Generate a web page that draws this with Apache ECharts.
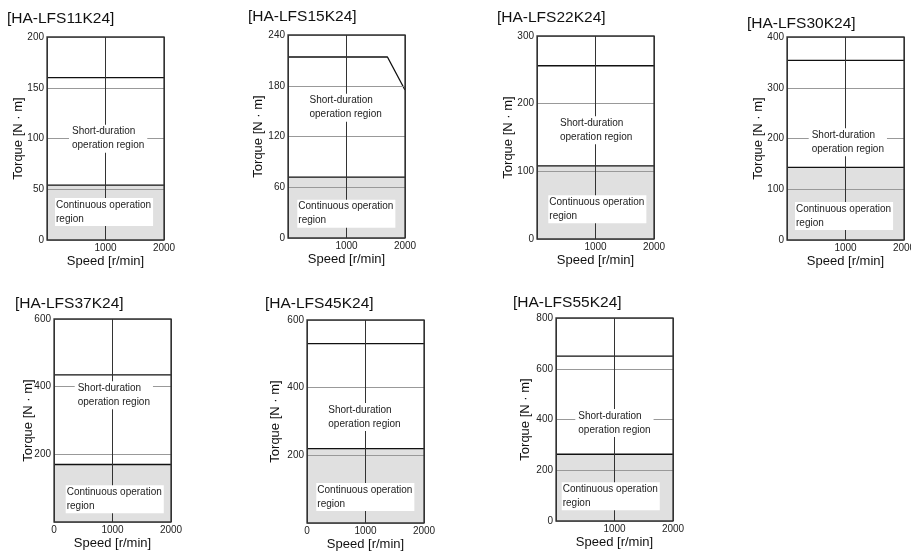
<!DOCTYPE html>
<html>
<head>
<meta charset="utf-8">
<script src="https://cdn.jsdelivr.net/npm/echarts@6/dist/echarts.min.js"></script>
<style>
  html, body { margin: 0; padding: 0; background: #fff; }
  #chart { width: 911px; height: 552px; }
</style>
</head>
<body>
<div id="chart"></div>
<script>
// Torque–speed characteristics of the HA-LFS motor series
const models = ['[HA-LFS11K24]', '[HA-LFS15K24]', '[HA-LFS22K24]', '[HA-LFS30K24]',
                '[HA-LFS37K24]', '[HA-LFS45K24]', '[HA-LFS55K24]'];
const torqueMax  = [200, 240, 300, 400, 600, 600, 800];
const torqueStep = [50, 60, 100, 100, 200, 200, 200];
const speedMax = 2000;
const speedStep = 1000;

// Continuous operation limit (flat over the speed range)
const contSpeed  = [0, 2000];
const contTorque = [54, 72, 108, 143, 170, 220, 263];

// Short-duration operation limit
const shortSpeed  = [[0, 2000], [0, 1700, 2000], [0, 2000], [0, 2000], [0, 2000], [0, 2000], [0, 2000]];
const shortTorque = [[160, 160], [214, 214, 175], [256, 256], [354, 354], [435, 435], [530, 530], [650, 650]];

const shortLabel = 'Short-duration\noperation region';
const contLabel  = 'Continuous operation\nregion';
const xName = 'Speed [r/min]';
const yName = 'Torque [N · m]';

// ---- layout (pixels) ----
const gridPos = [
  [47, 37], [288, 35], [537, 36], [787, 37],
  [54, 319], [307, 320], [556, 318]
];
const gridW = 117, gridH = 203;
const titlePos = [[7, 10.5], [248, 8.5], [497, 9.5], [747, 16], [15, 296], [265, 296], [513, 294.5]];
const yNameGap = [22.5, 23, 22, 22.5, 19.5, 25, 24.5];
const zeroOnX = [false, false, false, false, true, true, false];
const shortBox = [[69, 124.7], [306.5, 93.7], [557, 116.3], [808.7, 128.3], [74.7, 381.3], [325.3, 403], [575.3, 409]];
const contBox  = [[55, 198], [297.3, 199.7], [548.3, 195.3], [795, 202], [65.7, 485.3], [316.3, 483], [561.7, 482.3]];

const FONT = '"Liberation Sans", Arial, sans-serif';

const chart = echarts.init(document.getElementById('chart'), null, { renderer: 'canvas' });

const grids = [], xAxes = [], yAxes = [], series = [], titles = [], graphics = [];

models.forEach((name, i) => {
  grids.push({
    left: gridPos[i][0], top: gridPos[i][1], width: gridW, height: gridH,
    containLabel: false, outerBoundsMode: 'none',
    show: true, z: 4, borderColor: '#333', borderWidth: 1.3, backgroundColor: 'transparent'
  });
  titles.push({
    text: name, left: titlePos[i][0], top: titlePos[i][1], padding: 0,
    textStyle: { fontFamily: FONT, fontSize: 15.5, fontWeight: 'normal', color: '#111' }
  });
  xAxes.push({
    gridIndex: i, type: 'value', min: 0, max: speedMax, interval: speedStep, z: 3,
    name: xName, nameLocation: 'middle', nameGap: 15, nameMoveOverlap: false,
    nameTextStyle: { fontFamily: FONT, fontSize: 13, color: '#111' },
    axisLine: { show: false }, axisTick: { show: false },
    axisLabel: {
      margin: 3, fontFamily: FONT, fontSize: 10, color: '#222', hideOverlap: false,
      formatter: v => (v === 0 && !zeroOnX[i]) ? '' : String(v)
    },
    splitLine: { show: true, lineStyle: { color: '#333', width: 1 } }
  });
  yAxes.push({
    gridIndex: i, type: 'value', min: 0, max: torqueMax[i], interval: torqueStep[i], z: 3,
    name: yName, nameLocation: 'middle', nameGap: yNameGap[i], nameMoveOverlap: false,
    nameTextStyle: { fontFamily: FONT, fontSize: 13, color: '#111' },
    axisLine: { show: false }, axisTick: { show: false },
    axisLabel: {
      margin: 3, fontFamily: FONT, fontSize: 10, color: '#222',
      formatter: v => (v === 0 && zeroOnX[i]) ? '' : String(v)
    },
    splitLine: { show: true, lineStyle: { color: '#999', width: 1 } }
  });
  series.push({
    type: 'line', xAxisIndex: i, yAxisIndex: i, z: 1, symbol: 'none', silent: true,
    data: contSpeed.map(s => [s, contTorque[i]]),
    lineStyle: { color: '#111', width: 1.3 },
    areaStyle: { color: '#e0e0e0', opacity: 1 }
  });
  series.push({
    type: 'line', xAxisIndex: i, yAxisIndex: i, z: 1, symbol: 'none', silent: true,
    data: shortSpeed[i].map((s, k) => [s, shortTorque[i][k]]),
    lineStyle: { color: '#111', width: 1.3 }
  });
  graphics.push({
    type: 'text', x: shortBox[i][0], y: shortBox[i][1], z: 10, silent: true,
    style: {
      text: shortLabel, fontFamily: FONT, fontSize: 10, fill: '#222',
      backgroundColor: '#fff', padding: [0, 3, 0, 3], lineHeight: 14,
      align: 'left', verticalAlign: 'top'
    }
  });
  graphics.push({
    type: 'text', x: contBox[i][0], y: contBox[i][1], z: 10, silent: true,
    style: {
      text: contLabel, fontFamily: FONT, fontSize: 10, fill: '#222',
      backgroundColor: '#fff', padding: [0, 2, 0, 1], lineHeight: 14,
      align: 'left', verticalAlign: 'top'
    }
  });
});

chart.setOption({
  animation: false,
  backgroundColor: '#fff',
  title: titles,
  grid: grids,
  xAxis: xAxes,
  yAxis: yAxes,
  series: series,
  graphic: { elements: graphics }
});
</script>
</body>
</html>
